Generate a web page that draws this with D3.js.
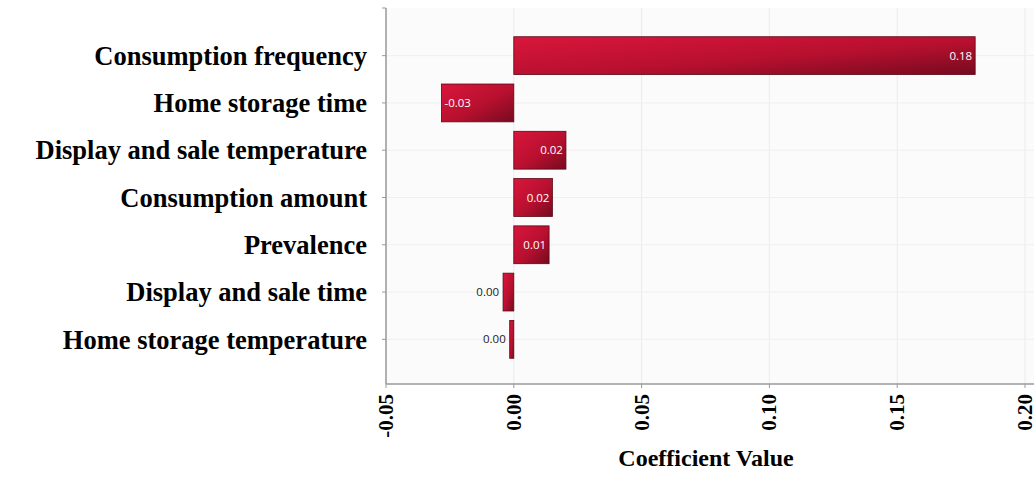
<!DOCTYPE html>
<html><head><meta charset="utf-8">
<script src="https://cdn.jsdelivr.net/npm/d3@7"></script>
<style>body{margin:0;background:#fff}</style>
</head><body>
<svg id="c" width="1034" height="480"></svg>
<script>
const categories = ["Consumption frequency","Home storage time","Display and sale temperature","Consumption amount","Prevalence","Display and sale time","Home storage temperature"];
const values = [0.1805, -0.0283, 0.0204, 0.0151, 0.0138, -0.0042, -0.0016];
const valueLabels = ["0.18","-0.03","0.02","0.02","0.01","0.00","0.00"];
const xTicks = [-0.05, 0.00, 0.05, 0.10, 0.15, 0.20];
const xTickLabels = ["-0.05","0.00","0.05","0.10","0.15","0.20"];
const xTitle = "Coefficient Value";

const svg = d3.select("#c");
const L = 386, R = 1025, T = 8, B = 384;
const x = d3.scaleLinear().domain([-0.05, 0.20]).range([L, R]);
const y = d3.scaleBand().domain(categories).range([32, 363]).paddingInner(0.2).paddingOuter(0.1);

const defs = svg.append("defs");
const g = defs.append("linearGradient").attr("id","bg").attr("x1","0").attr("y1","0").attr("x2","1").attr("y2","1");
g.append("stop").attr("offset","0%").attr("stop-color","#d9163c");
g.append("stop").attr("offset","55%").attr("stop-color","#b8102f");
g.append("stop").attr("offset","100%").attr("stop-color","#760a1f");

svg.append("rect").attr("x",L).attr("y",T).attr("width",1034-L).attr("height",B-T).attr("fill","#fbfbfb");

// grid
svg.append("g").selectAll("line").data(xTicks).join("line")
  .attr("x1",d=>x(d)).attr("x2",d=>x(d)).attr("y1",T).attr("y2",B)
  .attr("stroke","#ebebeb").attr("stroke-width",1);
svg.append("g").selectAll("line").data(categories).join("line")
  .attr("x1",L).attr("x2",1034).attr("y1",d=>y(d)+y.bandwidth()/2).attr("y2",d=>y(d)+y.bandwidth()/2)
  .attr("stroke","#efefef").attr("stroke-width",1);

// bars
svg.append("g").selectAll("rect").data(values).join("rect")
  .attr("x",d=>x(Math.min(0,d))).attr("width",d=>Math.abs(x(d)-x(0)))
  .attr("y",(d,i)=>y(categories[i])).attr("height",y.bandwidth())
  .attr("fill","url(#bg)").attr("stroke","#5a0816").attr("stroke-width",0.8);

// value labels
svg.append("g").selectAll("text").data(values).join("text")
  .each(function(d,i){
    const w = Math.abs(x(d)-x(0));
    const t = d3.select(this);
    let xx, anchor, fill;
    if (w < 20) { xx = x(Math.min(0,d)) - 4; anchor = "end"; fill = "#222"; }
    else if (d >= 0) { xx = x(d) - 3; anchor = "end"; fill = "#fff"; }
    else { xx = x(d) + 3; anchor = "start"; fill = "#fff"; }
    t.attr("x",xx).attr("text-anchor",anchor).attr("fill",fill);
  })
  .attr("y",(d,i)=>y(categories[i])+y.bandwidth()/2).attr("dy","0.35em")
  .attr("font-family","'Open Sans', 'DejaVu Sans', sans-serif").attr("font-size",11.5)
  .text((d,i)=>valueLabels[i]);

// axes
svg.append("line").attr("x1",L).attr("x2",L).attr("y1",T).attr("y2",B).attr("stroke","#9a9a9a").attr("stroke-width",1.5);
svg.append("line").attr("x1",L).attr("x2",1034).attr("y1",B).attr("y2",B).attr("stroke","#9a9a9a").attr("stroke-width",1.5);
svg.append("line").attr("x1",L-4).attr("x2",L).attr("y1",T).attr("y2",T).attr("stroke","#9a9a9a");
svg.append("g").selectAll("line").data(categories).join("line")
  .attr("x1",L-4).attr("x2",L).attr("y1",d=>y(d)+y.bandwidth()/2).attr("y2",d=>y(d)+y.bandwidth()/2)
  .attr("stroke","#9a9a9a");
svg.append("g").selectAll("line").data(xTicks).join("line")
  .attr("x1",d=>x(d)).attr("x2",d=>x(d)).attr("y1",B).attr("y2",B+4).attr("stroke","#9a9a9a");

// y labels
svg.append("g").selectAll("text").data(categories).join("text")
  .attr("x",367).attr("y",d=>y(d)+y.bandwidth()/2).attr("dy","0.35em").attr("text-anchor","end")
  .attr("font-family","'Liberation Serif','Times New Roman',serif").attr("font-weight","bold").attr("font-size",26.5)
  .attr("fill","#000").text(d=>d);

// x tick labels rotated
svg.append("g").selectAll("text").data(xTicks).join("text")
  .attr("transform",d=>`translate(${x(d)},${B+10}) rotate(-90)`)
  .attr("text-anchor","end").attr("dy","0.33em")
  .attr("font-family","'Liberation Serif','Times New Roman',serif").attr("font-weight","bold").attr("font-size",21)
  .attr("fill","#000").text((d,i)=>xTickLabels[i]);

svg.append("text").attr("x",706).attr("y",466).attr("text-anchor","middle")
  .attr("font-family","'Liberation Serif','Times New Roman',serif").attr("font-weight","bold").attr("font-size",24)
  .attr("fill","#000").text(xTitle);
</script>
</body></html>
